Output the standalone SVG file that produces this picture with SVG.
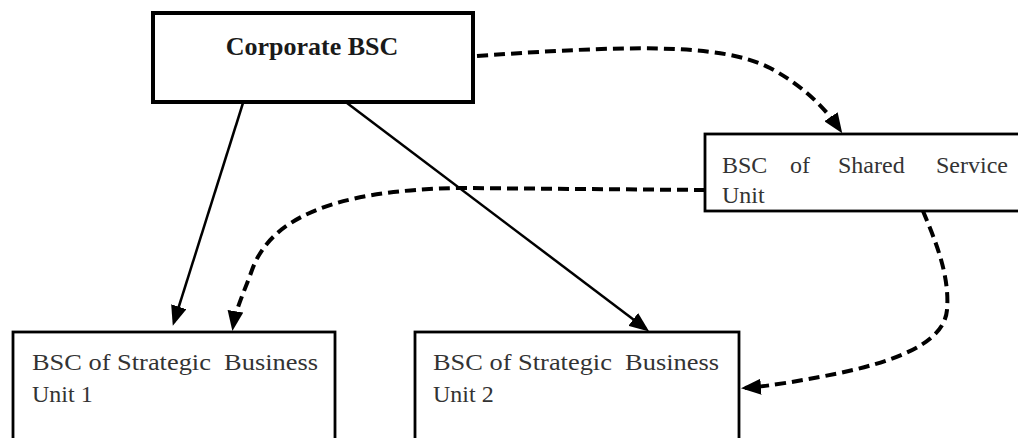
<svg xmlns="http://www.w3.org/2000/svg" width="1018" height="438" viewBox="0 0 1018 438">
<style>
.box{fill:#fff;stroke:#000;stroke-width:2.8}
.lbl{font-family:"Liberation Serif","Times New Roman",serif;font-size:24px;fill:#333}
.solid{fill:none;stroke:#000;stroke-width:2.5}
.dash{fill:none;stroke:#000;stroke-width:4;stroke-dasharray:11 6}
</style>
<defs>
<marker id="ah" viewBox="0 0 20 16" refX="16" refY="8" markerWidth="20" markerHeight="16" markerUnits="userSpaceOnUse" orient="auto">
<path d="M0,0 L20,8 L0,16 z" fill="#000"/>
</marker>
</defs>
<rect width="1018" height="438" fill="#fff"/>
<g id="corporate">
<rect x="153" y="13" width="320" height="89" fill="#fff" stroke="#000" stroke-width="4"/>
<text x="312" y="55" text-anchor="middle" font-family="Liberation Serif, Times New Roman, serif" font-size="26" font-weight="bold" fill="#1a1a1a">Corporate BSC</text>
</g>
<g id="shared">
<rect class="box" x="705" y="134" width="330" height="77"/>
<text class="lbl" y="173"><tspan x="722">BSC</tspan><tspan x="790">of</tspan><tspan x="838">Shared</tspan><tspan x="936">Service</tspan></text>
<text class="lbl" x="722" y="203">Unit</text>
</g>
<g id="sbu1">
<rect class="box" x="13" y="332" width="322" height="130"/>
<text class="lbl" x="32" y="370" textLength="286" lengthAdjust="spacingAndGlyphs" xml:space="preserve">BSC of Strategic  Business</text>
<text class="lbl" x="32" y="402">Unit 1</text>
</g>
<g id="sbu2">
<rect class="box" x="415" y="332" width="324" height="130"/>
<text class="lbl" x="433" y="370" textLength="286" lengthAdjust="spacingAndGlyphs" xml:space="preserve">BSC of Strategic  Business</text>
<text class="lbl" x="433" y="402">Unit 2</text>
</g>
<g id="connectors">
<path class="solid" d="M243,103 L174,322" marker-end="url(#ah)"/>
<path class="solid" d="M347,103 L646,329" marker-end="url(#ah)"/>
<path class="dash" d="M477,56 C620,46 720,42 770,68 C800,84 823,105 840,130" marker-end="url(#ah)"/>
<path class="dash" d="M705,190 L460,188 C330,190 270,220 252,270 C245,290 236,308 233,327" marker-end="url(#ah)"/>
<path class="dash" d="M923,211 C935,240 950,275 947,310 C944,345 890,362 840,373 C800,381 770,386 745,388" marker-end="url(#ah)"/>
</g>
</svg>
